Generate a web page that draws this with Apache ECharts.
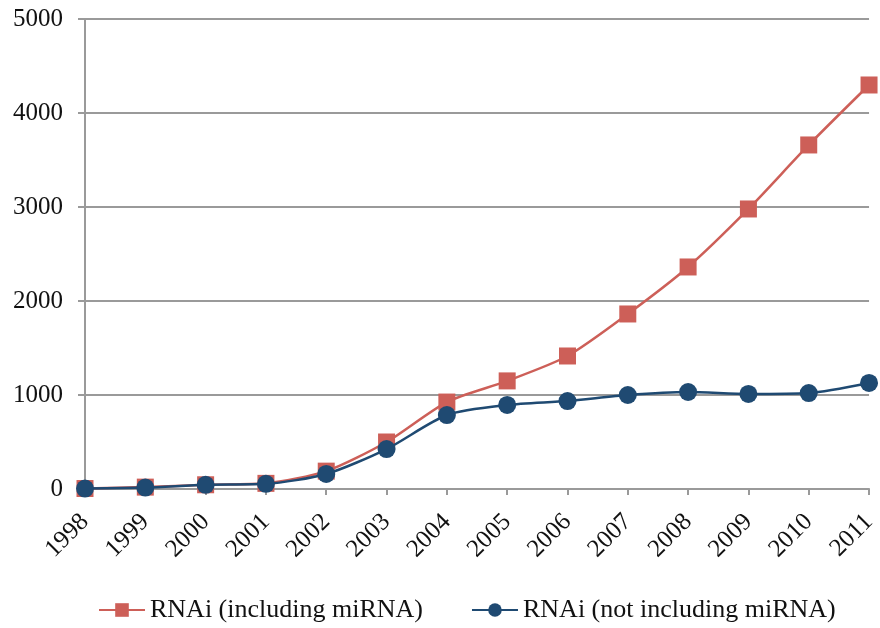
<!DOCTYPE html>
<html>
<head>
<meta charset="utf-8">
<script src="https://cdn.jsdelivr.net/npm/echarts@6/dist/echarts.min.js"></script>
<style>
  html, body { margin: 0; padding: 0; background: #fff; }
  #chart { width: 880px; height: 628px; }
</style>
</head>
<body>
<div id="chart"></div>
<script>
// Publication counts per year
const years = ['1998','1999','2000','2001','2002','2003','2004','2005','2006','2007','2008','2009','2010','2011'];
const includingMiRNA = [5, 20, 45, 60, 190, 500, 925, 1150, 1415, 1862, 2362, 2979, 3660, 4298];
const notIncludingMiRNA = [5, 15, 45, 55, 160, 425, 787, 894, 936, 1000, 1032, 1011, 1021, 1128];
const seriesNames = ['RNAi (including miRNA)', 'RNAi (not including miRNA)'];

const FONT = '"Liberation Serif", "DejaVu Serif", serif';
const AXIS_GRAY = '#9a9a9a';
const RED = '#CD5F58';
const BLUE = '#1F4A72';

const chart = echarts.init(document.getElementById('chart'), null, { renderer: 'canvas' });

chart.setOption({
  animation: false,
  backgroundColor: '#ffffff',
  grid: { left: 85, right: 7, top: 19, bottom: 139, containLabel: false },
  xAxis: {
    type: 'category',
    data: years,
    boundaryGap: false,
    axisLine: { lineStyle: { color: AXIS_GRAY, width: 2 } },
    axisTick: { show: true, alignWithLabel: true, length: 6, lineStyle: { color: AXIS_GRAY, width: 2 } },
    axisLabel: {
      rotate: 45,
      interval: 0,
      margin: 29,
      color: '#111',
      fontFamily: FONT,
      fontSize: 25
    },
    splitLine: { show: false }
  },
  yAxis: {
    type: 'value',
    min: 0,
    max: 5000,
    interval: 1000,
    axisLine: { show: true, lineStyle: { color: AXIS_GRAY, width: 2 } },
    axisTick: { show: true, length: 7, lineStyle: { color: AXIS_GRAY, width: 2 } },
    axisLabel: {
      color: '#111',
      fontFamily: FONT,
      fontSize: 25,
      margin: 22,
      formatter: function (v) { return String(v); }
    },
    splitLine: { show: true, lineStyle: { color: AXIS_GRAY, width: 2 } }
  },
  legend: {
    bottom: 0,
    left: 93,
    itemWidth: 46,
    itemHeight: 17,
    itemGap: 48,
    textStyle: { color: '#111', fontFamily: FONT, fontSize: 26 },
    data: seriesNames
  },
  series: [
    {
      name: seriesNames[0],
      type: 'line',
      data: includingMiRNA,
      smooth: 0.25,
      symbol: 'rect',
      symbolSize: 17,
      clip: false,
      lineStyle: { color: RED, width: 2.5 },
      itemStyle: { color: RED },
      z: 2
    },
    {
      name: seriesNames[1],
      type: 'line',
      data: notIncludingMiRNA,
      smooth: 0.25,
      symbol: 'circle',
      symbolSize: 18,
      clip: false,
      lineStyle: { color: BLUE, width: 2.5 },
      itemStyle: { color: BLUE },
      z: 3
    }
  ]
});
</script>
</body>
</html>
